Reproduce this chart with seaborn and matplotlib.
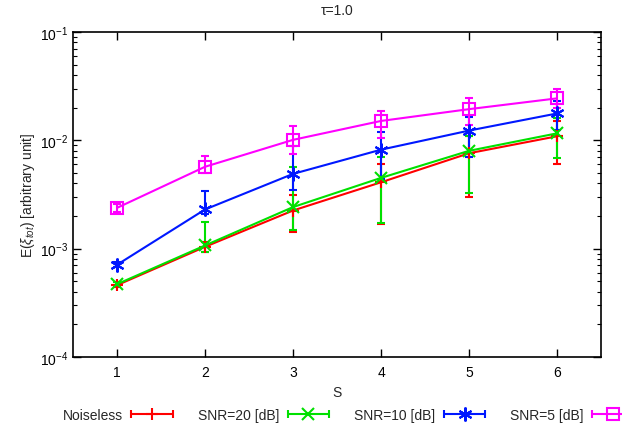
import numpy as np
import pandas as pd
import matplotlib
matplotlib.use("Agg")
import matplotlib.pyplot as plt
import seaborn as sns
from matplotlib.lines import Line2D
from matplotlib.legend_handler import HandlerBase
from matplotlib.ticker import LogLocator, NullFormatter

# ---------------- data ----------------
S = [1, 2, 3, 4, 5, 6]
series_names = ["Noiseless", "SNR=20 [dB]", "SNR=10 [dB]", "SNR=5 [dB]"]

noiseless = [0.00046, 0.00104, 0.00225, 0.0041, 0.0076, 0.0109]
snr20 = [0.00047, 0.00107, 0.00242, 0.0045, 0.0080, 0.0116]
snr10 = [0.00071, 0.0023, 0.0049, 0.0082, 0.0123, 0.0177]
snr5 = [0.00238, 0.0057, 0.0101, 0.0151, 0.0194, 0.0244]

noiseless_low = [0.00044, 0.00094, 0.00144, 0.0017, 0.0030, 0.0060]
noiseless_high = [0.00049, 0.00115, 0.0031, 0.0060, 0.0110, 0.0150]
snr20_low = [0.00045, 0.00094, 0.00150, 0.00172, 0.00327, 0.0069]
snr20_high = [0.00049, 0.00175, 0.0057, 0.0070, 0.0110, 0.0160]
snr10_low = [0.00068, 0.0021, 0.0035, 0.0044, 0.0070, 0.0124]
snr10_high = [0.00075, 0.0034, 0.0089, 0.0120, 0.0165, 0.0232]
snr5_low = [0.0022, 0.0050, 0.0075, 0.0105, 0.0140, 0.0200]
snr5_high = [0.0026, 0.0072, 0.0137, 0.0185, 0.0245, 0.0300]

values = [noiseless, snr20, snr10, snr5]
lows = [noiseless_low, snr20_low, snr10_low, snr5_low]
highs = [noiseless_high, snr20_high, snr10_high, snr5_high]

colors = ["#ff0000", "#00e000", "#0018ff", "#ff00ff"]
markers = ["+", "x", (6, 2, 0), "s"]
msizes = [9, 9, 10, 9]

# ---------------- style ----------------
sns.set_style("ticks")
plt.rcParams["font.family"] = ["Liberation Sans", "DejaVu Sans"]
plt.rcParams["mathtext.fontset"] = "custom"
plt.rcParams["mathtext.rm"] = "Liberation Sans"
plt.rcParams["mathtext.it"] = "Liberation Sans:italic"
plt.rcParams["mathtext.sf"] = "Liberation Sans"

fig = plt.figure(figsize=(6.22, 4.31), dpi=100)
ax = fig.add_axes([73 / 622, 1 - 358 / 431, (601 - 73) / 622, (358 - 33) / 431])

for name, vals, lo, hi, c, m, ms in zip(series_names, values, lows, highs,
                                        colors, markers, msizes):
    v = np.array(vals)
    yerr = np.vstack([v - np.array(lo), np.array(hi) - v])
    ax.errorbar(S, v, yerr=yerr, fmt="none", ecolor=c, elinewidth=1.5,
                capsize=3, capthick=1.5, zorder=2.5)
    d = pd.DataFrame({"S": S, "E": vals})
    sns.lineplot(data=d, x="S", y="E", color=c, marker=m, markersize=ms,
                 markeredgewidth=1.5, markeredgecolor=c,
                 markerfacecolor=("none" if m == "s" else c),
                 linewidth=1.5, ax=ax, legend=False, zorder=3)

ax.set_yscale("log")
ax.set_ylim(1e-4, 1e-1)
ax.set_xlim(0.5, 6.5)
ax.set_xticks(S)
ax.set_xticklabels([str(s) for s in S])
ax.yaxis.set_minor_locator(LogLocator(base=10, subs=np.arange(2, 10)))
ax.yaxis.set_minor_formatter(NullFormatter())
ax.tick_params(axis="both", which="both", direction="in", top=True, right=True,
               labelsize=10, colors="black")
ax.tick_params(axis="both", which="major", length=6, width=1)
ax.tick_params(axis="y", which="minor", length=3, width=0.8)
ax.tick_params(axis="x", which="major", pad=6)
for sp in ax.spines.values():
    sp.set_linewidth(1.2)
    sp.set_color("black")

ax.set_xlabel("S", fontsize=10, labelpad=4)
ax.set_ylabel(r"E($\xi_{tot}$) [arbitrary unit]", fontsize=10, labelpad=2)
ax.set_title("τ=1.0", fontsize=10, pad=13)


# ---------------- legend (gnuplot-like: text then sample with end caps) ----------------
class CapHandler(HandlerBase):
    def create_artists(self, legend, orig_handle, xdescent, ydescent, width,
                       height, fontsize, trans):
        c = orig_handle.get_color()
        m = orig_handle.get_marker()
        y = height / 2 - ydescent
        x0, x1 = -xdescent, width - xdescent
        ln = Line2D([x0, x1], [y, y], color=c, lw=1.5)
        caps = Line2D([x0, x1], [y, y], ls="none", marker="|", ms=6,
                      mew=1.5, color=c)
        mk = Line2D([(x0 + x1) / 2], [y], ls="none", marker=m,
                    ms=orig_handle.get_markersize(), mew=1.5, color=c,
                    mfc="none" if m == "s" else c)
        for a in (ln, caps, mk):
            a.set_transform(trans)
        return [ln, caps, mk]


handles = [Line2D([], [], color=c, marker=m, ms=ms)
           for c, m, ms in zip(colors, markers, msizes)]
fig.legend(handles, series_names, handler_map={Line2D: CapHandler()},
           loc="center", bbox_to_anchor=(0.56, 1 - 416 / 431), ncol=4,
           frameon=False, markerfirst=False, handlelength=3.0,
           columnspacing=1.8, handletextpad=0.6, fontsize=10)

fig.savefig("out.png", dpi=100)
